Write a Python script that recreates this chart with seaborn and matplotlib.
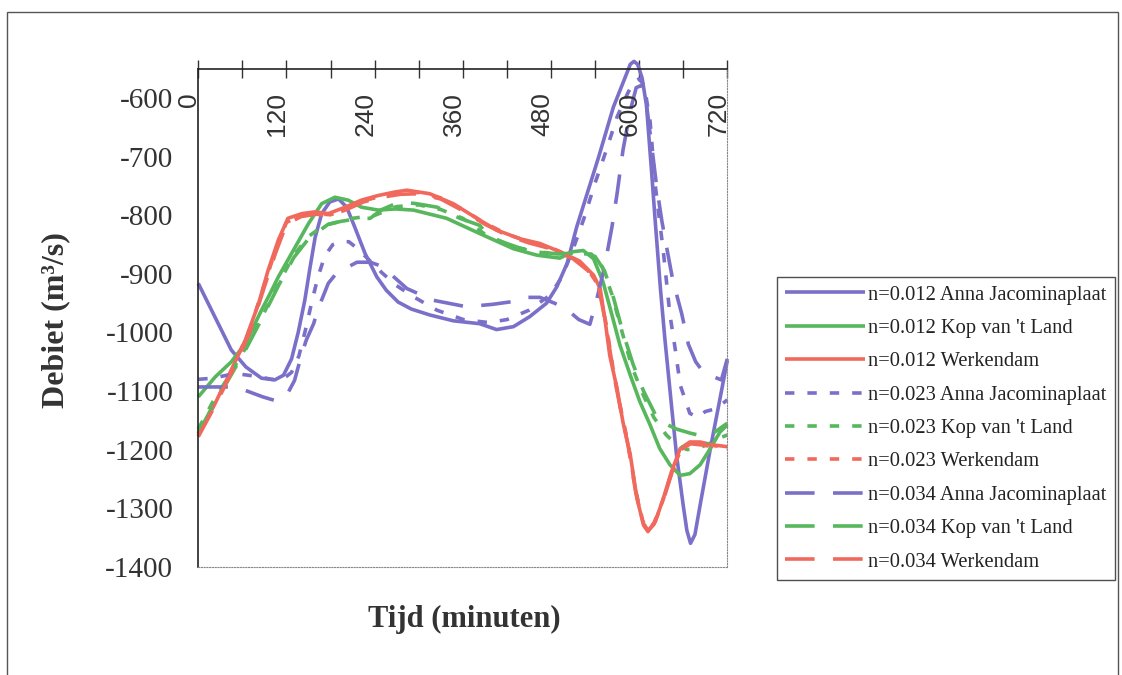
import pandas as pd
import matplotlib
matplotlib.use('Agg')
import matplotlib.pyplot as plt
import matplotlib.transforms as mtransforms
from matplotlib.patches import Rectangle
import seaborn as sns

# tijd (minuten) en debiet (m3/s), afgelezen per reeks
# AJ = Anna Jacominaplaat, KL = Kop van 't Land, WD = Werkendam
t_aj_012 = [0, 45, 65, 86, 104, 116, 127, 136, 145, 152, 159, 168, 179, 191, 202, 213, 227, 243, 256, 272,
            290, 315, 347, 383, 406, 429, 451, 474, 488, 502, 515, 530, 545, 565, 583, 588, 593, 598, 604, 610,
            617, 622, 629, 635, 644, 651, 660, 665, 670, 676, 683, 697, 711, 720]
q_aj_012 = [-916, -1030, -1059, -1078, -1081, -1073, -1045, -1000, -945, -890, -838, -797, -777, -772, -786, -820, -865, -905, -928, -948,
            -960, -970, -980, -985, -995, -990, -973, -950, -922, -882, -820, -760, -700, -615, -558, -542, -537, -542, -565, -612,
            -726, -811, -925, -1010, -1124, -1210, -1295, -1338, -1360, -1345, -1295, -1198, -1107, -1048]

t_kl_012 = [0, 23, 45, 64, 86, 98, 109, 132, 150, 168, 186, 204, 222, 245, 268, 293, 338, 383, 429, 461,
            492, 510, 524, 538, 551, 563, 574, 588, 601, 615, 628, 642, 656, 669, 683, 697, 710, 720]
q_kl_012 = [-1110, -1076, -1050, -1019, -962, -933, -905, -854, -814, -780, -769, -774, -786, -791, -789, -791, -805, -831, -857, -868,
            -873, -862, -860, -874, -914, -970, -1022, -1073, -1118, -1158, -1198, -1226, -1244, -1241, -1226, -1198, -1170, -1158]

t_wd_012 = [0, 23, 45, 64, 82, 95, 109, 122, 141, 159, 177, 200, 222, 245, 268, 284, 315, 347, 383, 406,
            438, 465, 492, 519, 538, 547, 554, 560, 570, 578, 588, 597, 606, 612, 622, 633, 644, 656, 669, 683, 701, 720]
q_wd_012 = [-1175, -1121, -1064, -1013, -951, -894, -842, -805, -797, -794, -797, -786, -774, -766, -760, -757, -763, -780, -808, -825,
            -840, -848, -862, -878, -902, -925, -982, -1039, -1096, -1153, -1209, -1283, -1329, -1340, -1323, -1283, -1238, -1198, -1187, -1187, -1192, -1195]

t_aj_023 = [0, 20, 50, 80, 100, 115, 127, 137, 147, 155, 163, 172, 183, 195, 205, 215, 230, 250, 270, 293,
            325, 361, 395, 420, 450, 479, 495, 510, 525, 540, 555, 570, 585, 593, 600, 607, 615, 622, 633, 642,
            649, 656, 669, 680, 690, 705, 720]
q_aj_023 = [-1080, -1078, -1070, -1075, -1080, -1080, -1068, -1040, -990, -945, -905, -870, -850, -845, -845, -855, -873, -898, -920, -939,
            -962, -978, -983, -978, -962, -936, -905, -858, -805, -745, -690, -632, -590, -572, -567, -578, -640, -749, -862, -970,
            -1027, -1090, -1138, -1145, -1135, -1130, -1115]

t_kl_023 = [0, 20, 45, 65, 90, 110, 130, 150, 170, 188, 210, 240, 270, 300, 330, 360, 390, 420, 450, 480,
            510, 535, 550, 563, 577, 590, 605, 620, 637, 650, 665, 680, 695, 710, 720]
q_kl_023 = [-1165, -1118, -1068, -1025, -965, -915, -868, -836, -818, -812, -805, -800, -785, -782, -790, -805, -832, -850, -860, -866,
            -865, -866, -888, -935, -1000, -1058, -1105, -1145, -1175, -1190, -1200, -1198, -1190, -1180, -1175]

t_wd_023 = [0, 25, 50, 70, 90, 105, 120, 140, 160, 180, 200, 225, 250, 275, 300, 330, 360, 390, 420, 450,
            480, 510, 530, 545, 555, 565, 575, 585, 595, 605, 612, 620, 632, 645, 658, 670, 685, 700, 720]
q_wd_023 = [-1172, -1116, -1052, -995, -918, -860, -812, -800, -797, -799, -789, -775, -767, -762, -761, -770, -790, -813, -832, -845,
            -855, -872, -892, -920, -985, -1065, -1130, -1190, -1268, -1322, -1336, -1326, -1288, -1236, -1197, -1188, -1190, -1193, -1196]

t_aj_034 = [0, 45, 60, 88, 104, 120, 131, 141, 147, 157, 163, 177, 186, 195, 216, 234, 250, 284, 320, 365,
            400, 429, 447, 465, 485, 501, 518, 533, 542, 553, 563, 570, 578, 588, 596, 603, 610, 617, 624, 631,
            638, 645, 651, 658, 667, 677, 687, 700, 712, 720]
q_aj_034 = [-1093, -1093, -1097, -1110, -1116, -1108, -1082, -1036, -1013, -985, -960, -916, -902, -894, -880, -880, -887, -925, -945, -956,
            -952, -947, -940, -940, -950, -960, -978, -986, -945, -888, -820, -763, -689, -621, -582, -578, -610, -680, -752, -810,
            -858, -905, -935, -968, -1020, -1050, -1067, -1075, -1081, -1045]

t_kl_034 = [0, 20, 45, 65, 90, 110, 130, 150, 177, 195, 215, 234, 250, 274, 297, 325, 356, 383, 397, 420,
            438, 461, 490, 520, 540, 553, 565, 578, 592, 606, 616, 626, 651, 670, 687, 703, 720]
q_kl_034 = [-1172, -1125, -1072, -1028, -968, -918, -872, -840, -815, -810, -806, -805, -790, -777, -780, -786, -805, -817, -837, -848,
            -856, -862, -866, -864, -870, -895, -940, -1000, -1055, -1100, -1125, -1150, -1165, -1172, -1177, -1170, -1155]

t_wd_034 = t_wd_023
q_wd_034 = [-1178, -1120, -1056, -1000, -922, -865, -815, -802, -798, -800, -791, -777, -769, -764, -763, -772, -792, -815, -834, -847,
            -857, -874, -894, -922, -988, -1068, -1133, -1193, -1270, -1324, -1338, -1328, -1290, -1238, -1199, -1190, -1192, -1195, -1198]

station_colors = {'Anna Jacominaplaat': '#7b70c9', "Kop van 't Land": '#57b75d', 'Werkendam': '#f0695c'}
n_dashes = {'0.012': '', '0.023': (2.6, 3.6), '0.034': (8.2, 5.1)}

reeksen = [
    ('0.012', 'Anna Jacominaplaat', t_aj_012, q_aj_012),
    ('0.012', "Kop van 't Land", t_kl_012, q_kl_012),
    ('0.012', 'Werkendam', t_wd_012, q_wd_012),
    ('0.023', 'Anna Jacominaplaat', t_aj_023, q_aj_023),
    ('0.023', "Kop van 't Land", t_kl_023, q_kl_023),
    ('0.023', 'Werkendam', t_wd_023, q_wd_023),
    ('0.034', 'Anna Jacominaplaat', t_aj_034, q_aj_034),
    ('0.034', "Kop van 't Land", t_kl_034, q_kl_034),
    ('0.034', 'Werkendam', t_wd_034, q_wd_034),
]

rows = []
names = []
pal = {}
dash_map = {}
for n, st, t, q in reeksen:
    name = 'n=' + n + ' ' + st
    names.append(name)
    pal[name] = station_colors[st]
    dash_map[name] = n_dashes[n]
    for ti, qi in zip(t, q):
        rows.append((name, ti, qi))
df = pd.DataFrame(rows, columns=['serie', 'tijd', 'debiet'])

sns.set_theme(style='white')
plt.rcParams['font.family'] = ['Liberation Serif', 'DejaVu Serif']
plt.rcParams['axes.unicode_minus'] = False

fig = plt.figure(figsize=(11.22, 6.75), dpi=100)
ax = fig.add_axes([0.1767, 0.1604, 0.4715, 0.7374])

sns.lineplot(data=df, x='tijd', y='debiet', hue='serie', style='serie',
             hue_order=names, style_order=names, palette=pal, dashes=dash_map,
             sort=False, estimator=None, linewidth=2.6, ax=ax)

lines = [l for l in ax.get_lines() if len(l.get_xdata()) > 0]
for l in lines:
    l.set_clip_on(False)
    l.set_solid_capstyle('butt')

ax.set_xlim(0, 720)
ax.set_ylim(-1400, -550)
ax.set_xlabel('')
ax.set_ylabel('')

# x-as bovenaan, labels onder de as in het plotvlak
ax.xaxis.tick_top()
ax.set_xticks(range(0, 721, 60))
ax.tick_params(axis='x', direction='inout', length=13, width=1, color='#333333',
               labeltop=False, labelbottom=False)
offset = mtransforms.ScaledTranslation(-0.09, -0.23, fig.dpi_scale_trans)
for tk in range(0, 721, 120):
    ax.text(tk, 1, str(tk), transform=ax.get_xaxis_transform() + offset,
            rotation=90, ha='center', va='top', fontsize=19, color='#333333',
            family=['Liberation Sans', 'DejaVu Sans'])

ax.set_yticks(range(-1400, -599, 100))
ax.tick_params(axis='y', direction='inout', length=14, width=1, color='#333333',
               pad=11, labelsize=21, labelcolor='#333333')

for side in ['left', 'top']:
    ax.spines[side].set_color('#222222')
    ax.spines[side].set_linewidth(1.2)
for side in ['right', 'bottom']:
    ax.spines[side].set_color('#888888')
    ax.spines[side].set_linewidth(0.8)
    ax.spines[side].set_linestyle((0, (1, 1.5)))

fig.text(56 / 1122, 1 - 320 / 675, 'Debiet (m³/s)', rotation=90, ha='center', va='center',
         fontsize=23, fontweight='bold', color='#333333')
fig.text(464 / 1122, 1 - 619 / 675, 'Tijd (minuten)', ha='center', va='center',
         fontsize=22, fontweight='bold', color='#333333')

if ax.get_legend() is not None:
    ax.get_legend().remove()
leg = ax.legend(lines, names, loc='upper left', bbox_to_anchor=(777 / 1122, 1 - 277 / 675),
                bbox_transform=fig.transFigure, frameon=True, fancybox=False,
                edgecolor='#222222', fontsize=14.8, handlelength=3.9, handletextpad=0.15,
                labelspacing=0.68, borderpad=0.4, borderaxespad=0)
leg.get_frame().set_linewidth(1)
for txt in leg.get_texts():
    txt.set_color('#222222')

fig.add_artist(Rectangle((7 / 1122, -0.01), (1118 - 7) / 1122, 1 - 12 / 675 + 0.01,
                         transform=fig.transFigure, fill=False, ec='#555555', lw=1))

fig.savefig('out.png', dpi=100, facecolor='white')
